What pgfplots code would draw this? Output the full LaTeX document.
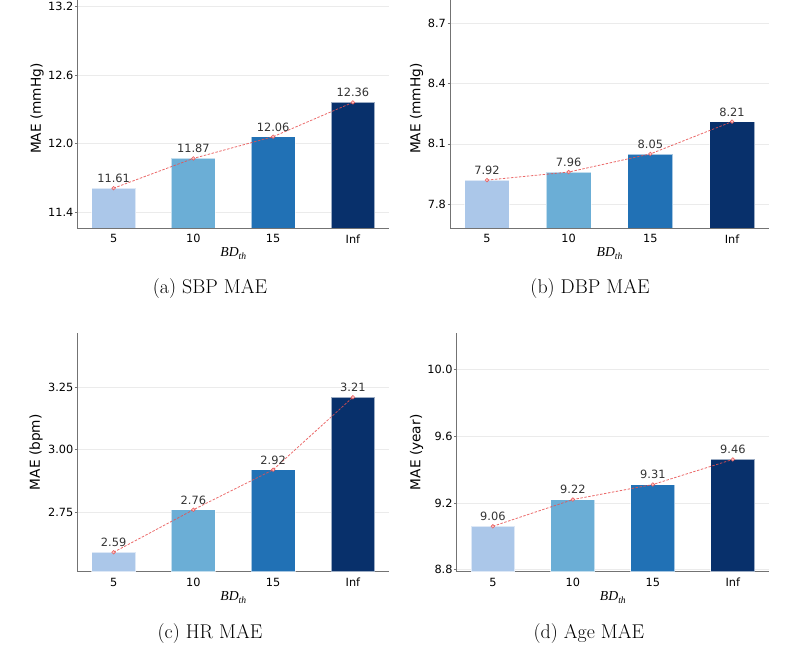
\documentclass[border=0pt]{standalone}
\usepackage{fontspec}
\setsansfont{DejaVu Sans}
\newfontfamily\timesf{Liberation Serif}
\usepackage{pgfplots}
\pgfplotsset{compat=1.18}
\definecolor{c1}{RGB}{171,199,233}
\definecolor{c2}{RGB}{107,174,214}
\definecolor{c3}{RGB}{33,113,181}
\definecolor{c4}{RGB}{8,48,107}
\definecolor{redl}{RGB}{232,80,80}
\definecolor{pinkf}{RGB}{250,200,200}
\newcommand{\bdth}{{\timesf\itshape\fontsize{13.7}{16}\selectfont BD\raisebox{-2.6pt}{\fontsize{9.6}{11}\selectfont th}}}
\pgfplotsset{
  mypanel/.style={
    scale only axis, height=238.7pt,
    xmin=-0.4525, xmax=3.4525,
    ybar, bar width=0.55, bar shift=0pt,
    axis lines=left,
    axis line style={-, draw=black!55, line width=0.9pt},
    xtick={0,1,2,3}, xticklabels={5,10,15,Inf},
    xtick style={draw=none},
    ytick style={draw=black!55, line width=0.6pt},
    major tick length=2.5pt,
    tick align=outside,
    ymajorgrids,
    major grid style={draw=black!8, line width=0.5pt},
    /pgf/number format/assume math mode=true,
    ticklabel style={font=\fontsize{11.3}{13}\selectfont\sffamily, text=black},
    xticklabel style={anchor=north, inner sep=0pt, yshift=-3.8pt},
    yticklabel style={anchor=east, inner sep=0pt, xshift=-1.5pt},
    xlabel={\bdth},
    every axis x label/.style={at={(axis description cs:0.5,0)}, anchor=base, yshift=-28.7pt, inner sep=0pt},
    every axis y label/.style={at={(axis description cs:0,0.5)}, rotate=90, anchor=center, inner sep=0pt, font=\fontsize{13.7}{16}\selectfont\sffamily},
  },
  barlab/.style={fill=#1, draw=white, draw opacity=0.6, line width=0.8pt,
    nodes near coords, point meta=explicit symbolic,
    every node near coord/.append style={font=\fontsize{11.4}{13}\selectfont\sffamily, text=black!80, anchor=south, inner sep=0pt, yshift=5pt}},
  redline/.style={sharp plot, draw=redl, draw opacity=0.85, dash pattern=on 2.5pt off 1.5pt, line width=0.8pt,
    mark=*, mark size=1.8pt, mark options={solid, fill=pinkf, draw=redl, line width=0.6pt}},
}
\begin{document}
\begin{tikzpicture}[x=1pt,y=1pt]
\path[use as bounding box] (0,0) rectangle (800,651);
% (a)
\begin{axis}[mypanel, at={(77.5pt,423pt)}, anchor=south west, width=311.5pt,
  ymin=11.2617, ymax=13.3488,
  ytick={11.4,12.0,12.6,13.2}, yticklabels={11.4,12.0,12.6,13.2},
  ylabel={MAE (mmHg)}, ylabel style={yshift=40.5pt}]
\addplot[barlab=c1] coordinates {(0,11.61) [11.61]};
\addplot[barlab=c2] coordinates {(1,11.87) [11.87]};
\addplot[barlab=c3] coordinates {(2,12.06) [12.06]};
\addplot[barlab=c4] coordinates {(3,12.36) [12.36]};
\addplot[redline] coordinates {(0,11.61) (1,11.87) (2,12.06) (3,12.36)};
\end{axis}
% (b)
\begin{axis}[mypanel, at={(450pt,423pt)}, anchor=south west, width=319pt,
  ymin=7.6824, ymax=8.8668,
  ytick={7.8,8.1,8.4,8.7}, yticklabels={7.8,8.1,8.4,8.7},
  ylabel={MAE (mmHg)}, ylabel style={yshift=33.3pt}]
\addplot[barlab=c1] coordinates {(0,7.92) [7.92]};
\addplot[barlab=c2] coordinates {(1,7.96) [7.96]};
\addplot[barlab=c3] coordinates {(2,8.05) [8.05]};
\addplot[barlab=c4] coordinates {(3,8.21) [8.21]};
\addplot[redline] coordinates {(0,7.92) (1,7.96) (2,8.05) (3,8.21)};
\end{axis}
% (c)
\begin{axis}[mypanel, at={(77.5pt,79.3pt)}, anchor=south west, width=311.5pt,
  ymin=2.5123, ymax=3.4668,
  ytick={2.75,3.00,3.25}, yticklabels={2.75,3.00,3.25},
  ylabel={MAE (bpm)}, ylabel style={yshift=41.5pt}]
\addplot[barlab=c1] coordinates {(0,2.59) [2.59]};
\addplot[barlab=c2] coordinates {(1,2.76) [2.76]};
\addplot[barlab=c3] coordinates {(2,2.92) [2.92]};
\addplot[barlab=c4] coordinates {(3,3.21) [3.21]};
\addplot[redline] coordinates {(0,2.59) (1,2.76) (2,2.92) (3,3.21)};
\end{axis}
% (d)
\begin{axis}[mypanel, at={(456.7pt,79.3pt)}, anchor=south west, width=312.3pt,
  ymin=8.7882, ymax=10.2168,
  ytick={8.8,9.2,9.6,10.0}, yticklabels={8.8,9.2,9.6,10.0},
  ylabel={MAE (year)}, ylabel style={yshift=40pt}]
\addplot[barlab=c1] coordinates {(0,9.06) [9.06]};
\addplot[barlab=c2] coordinates {(1,9.22) [9.22]};
\addplot[barlab=c3] coordinates {(2,9.31) [9.31]};
\addplot[barlab=c4] coordinates {(3,9.46) [9.46]};
\addplot[redline] coordinates {(0,9.06) (1,9.22) (2,9.31) (3,9.46)};
\end{axis}
\node[font=\fontsize{19.9}{24}\selectfont\rmfamily] at (210,362) {(a) SBP MAE};
\node[font=\fontsize{19.9}{24}\selectfont\rmfamily] at (590,362) {(b) DBP MAE};
\node[font=\fontsize{19.9}{24}\selectfont\rmfamily] at (210,17.7) {(c) HR MAE};
\node[font=\fontsize{19.9}{24}\selectfont\rmfamily] at (588.8,17.7) {(d) Age MAE};
\end{tikzpicture}
\end{document}
